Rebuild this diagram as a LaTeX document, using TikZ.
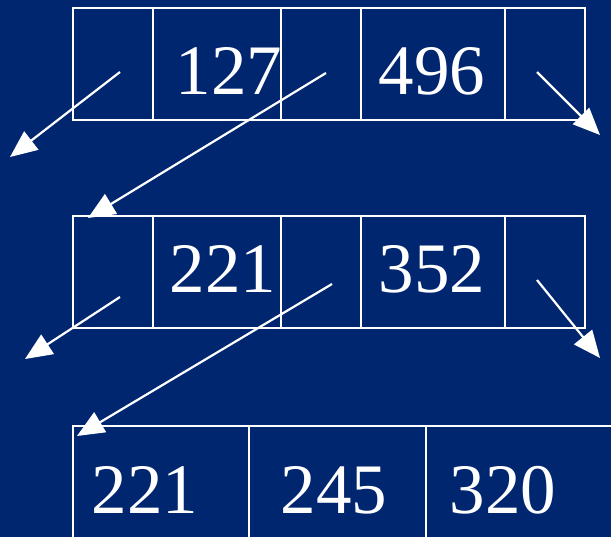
\documentclass[tikz,border=0pt]{standalone}
\usepackage{fontspec}
\setmainfont{Liberation Serif}
\usetikzlibrary{arrows.meta}
\definecolor{bgblue}{RGB}{0,38,112}
\begin{document}
\begin{tikzpicture}[x=1pt,y=-1pt,
  cell/.style={draw=white,line width=1.8pt,inner sep=0pt,outer sep=0pt,rectangle},
  num/.style={text=white,anchor=base,inner sep=0pt,font=\fontsize{71}{71}\selectfont},
  ptr/.style={draw=white,line width=2.2pt,-{Triangle[length=27pt,width=23pt]}}]
\fill[bgblue] (0,0) rectangle (611,537);
\useasboundingbox (0,0) rectangle (611,537);
\begin{scope}
\clip (0,0) rectangle (611,537);
% top node
\node[cell,minimum width=80pt,minimum height=112pt] (t1) at (113,64) {};
\node[cell,minimum width=128pt,minimum height=112pt] (t2) at (217,64) {};
\node[cell,minimum width=80pt,minimum height=112pt] (t3) at (321,64) {};
\node[cell,minimum width=144pt,minimum height=112pt] (t4) at (433,64) {};
\node[cell,minimum width=80pt,minimum height=112pt] (t5) at (545,64) {};
\node[num] (k127) at (229,95) {127};
\node[num] (k496) at (432,95) {496};
% middle node
\node[cell,minimum width=80pt,minimum height=112pt] (m1) at (113,272) {};
\node[cell,minimum width=128pt,minimum height=112pt] (m2) at (217,272) {};
\node[cell,minimum width=80pt,minimum height=112pt] (m3) at (321,272) {};
\node[cell,minimum width=144pt,minimum height=112pt] (m4) at (433,272) {};
\node[cell,minimum width=80pt,minimum height=112pt] (m5) at (545,272) {};
\node[num] (k221) at (223,293) {221};
\node[num] (k352) at (432,293) {352};
% leaf
\node[cell,minimum width=176pt,minimum height=220pt] (b1) at (161,536) {};
\node[cell,minimum width=177pt,minimum height=220pt] (b2) at (337.5,536) {};
\node[cell,minimum width=224pt,minimum height=220pt] (b3) at (538,536) {};
\node[num] (l221) at (145,513) {221};
\node[num] (l245) at (334,513) {245};
\node[num] (l320) at (503,513) {320};
% pointer coordinates
\coordinate (ts1) at (120,72);
\coordinate (ts3) at (326,73);
\coordinate (ts5) at (537,72);
\coordinate (te1) at (10,157);
\coordinate (te3) at (88,218);
\coordinate (te5) at (600,135);
\coordinate (ms1) at (120,297);
\coordinate (ms3) at (332,284);
\coordinate (ms5) at (537,280);
\coordinate (me1) at (25,359);
\coordinate (me3) at (77,436);
\coordinate (me5) at (600,358);
\draw[ptr] (ts1) -- (te1);
\draw[ptr] (ts3) -- (te3);
\draw[ptr] (ts5) -- (te5);
\draw[ptr] (ms1) -- (me1);
\draw[ptr] (ms3) -- (me3);
\draw[ptr] (ms5) -- (me5);
\end{scope}
\end{tikzpicture}
\end{document}
